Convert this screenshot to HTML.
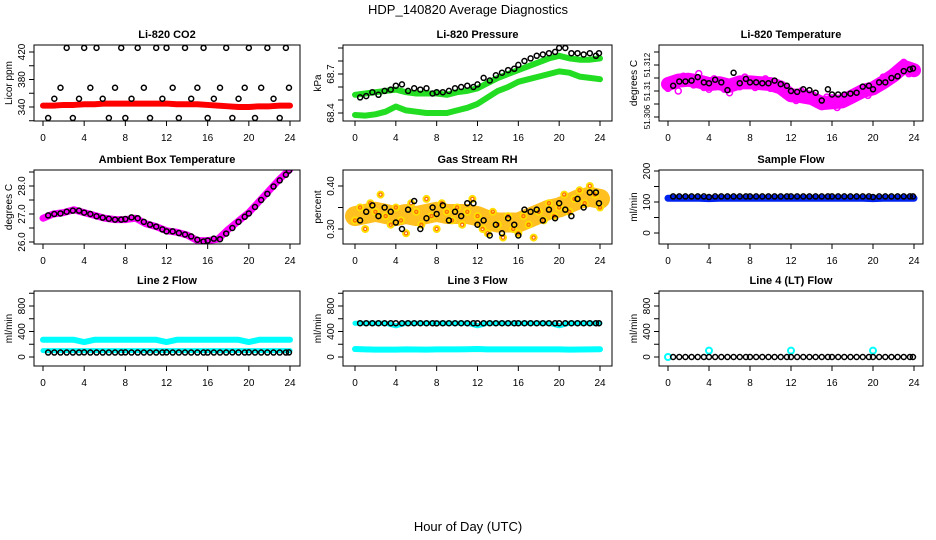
<!DOCTYPE html>
<html><head><meta charset="utf-8"><style>
body{margin:0;background:#fff}
svg{display:block;font-family:"Liberation Sans",sans-serif}
</style></head><body>
<svg id="c" width="936" height="540" viewBox="0 0 936 540">
<text x="468" y="14" text-anchor="middle" font-size="13">HDP_140820  Average Diagnostics</text>
<text x="468" y="531" text-anchor="middle" font-size="13">Hour of Day (UTC)</text>
</svg>
<script>
const hourly=[0,1,2,3,4,5,6,7,8,9,10,11,12,13,14,15,16,17,18,19,20,21,22,23,24];
const halfHours=[0,0.5,1,1.5,2,2.5,3,3.5,4,4.5,5,5.5,6,6.5,7,7.5,8,8.5,9,9.5,10,10.5,11,11.5,12,12.5,13,13.5,14,14.5,15,15.5,16,16.5,17,17.5,18,18.5,19,19.5,20,20.5,21,21.5,22,22.5,23,23.5,24];
const blackHours=[0.5,1.1,1.7,2.3,2.9,3.5,4.0,4.6,5.2,5.8,6.4,7.0,7.6,8.0,8.6,9.2,9.8,10.4,11.0,11.6,12.0,12.6,13.2,13.8,14.4,15.0,15.6,16.0,16.6,17.2,17.8,18.4,19.0,19.6,20.0,20.6,21.2,21.8,22.4,23.0,23.6,23.9];
const xTicks=[0,4,8,12,16,20,24];
const co2Red=[342,342,343,343,344,344,345,345,345,345,345,345,345,344,344,344,343,342,341,340,340,341,341,342,342];
const co2Black=[324,352,368,426,324,352,426,368,426,352,324,368,426,324,352,426,368,324,426,352,426,368,324,426,352,368,426,324,352,368,426,324,352,368,426,324,368,426,352,324,426,368];
const presBlack=[68.52,68.53,68.56,68.54,68.57,68.58,68.61,68.62,68.57,68.59,68.58,68.59,68.55,68.56,68.56,68.57,68.59,68.60,68.61,68.60,68.62,68.67,68.65,68.69,68.71,68.73,68.74,68.77,68.80,68.82,68.84,68.85,68.86,68.87,68.90,68.90,68.86,68.86,68.85,68.86,68.84,68.86];
const presGreenHi=[68.54,68.55,68.56,68.57,68.58,68.56,68.55,68.55,68.55,68.54,68.56,68.57,68.59,68.63,68.67,68.70,68.73,68.76,68.79,68.82,68.84,68.82,68.81,68.81,68.82];
const presGreenLo=[68.385,68.38,68.39,68.41,68.45,68.42,68.41,68.40,68.40,68.40,68.42,68.44,68.47,68.52,68.57,68.60,68.64,68.66,68.68,68.70,68.72,68.71,68.68,68.67,68.66];
const tempMag=[51.3098,51.3102,51.3103,51.3101,51.3098,51.3099,51.3096,51.3100,51.3100,51.3099,51.3098,51.3094,51.3085,51.3084,51.3082,51.3076,51.3077,51.3078,51.3084,51.3090,51.3093,51.3100,51.3108,51.3118,51.3114];
const tempMagScatter=[51.3093,51.3101,51.3090,51.3107,51.3105,51.3097,51.3110,51.3094,51.3092,51.3104,51.3101,51.3092,51.3088,51.3100,51.3095,51.3106,51.3103,51.3094,51.3097,51.3104,51.3093,51.3100,51.3098,51.3085,51.3082,51.3079,51.3090,51.3080,51.3086,51.3075,51.3072,51.3083,51.3082,51.3071,51.3076,51.3085,51.3080,51.3088,51.3094,51.3085,51.3091,51.3097,51.3106,51.3102,51.3110,51.3114,51.3123,51.3110,51.3117];
const tempBlack=[51.3096,51.3101,51.3101,51.3102,51.3106,51.3100,51.3099,51.3103,51.3100,51.3091,51.3111,51.3099,51.3104,51.3100,51.3100,51.3099,51.3099,51.3102,51.3098,51.3096,51.3090,51.3089,51.3092,51.3091,51.3088,51.3079,51.3092,51.3086,51.3086,51.3086,51.3087,51.3088,51.3095,51.3096,51.3092,51.3100,51.3100,51.3105,51.3107,51.3113,51.3115,51.3116];
const ambMag=[26.85,27.0,27.05,27.15,27.05,26.95,26.85,26.8,26.8,26.85,26.65,26.55,26.4,26.35,26.25,26.05,26.05,26.1,26.45,26.75,27.05,27.45,27.85,28.25,28.6];
const ambBlack=[26.95,27.0,27.02,27.08,27.12,27.12,27.05,27.0,26.92,26.87,26.83,26.8,26.8,26.82,26.88,26.85,26.72,26.62,26.55,26.45,26.38,26.38,26.32,26.27,26.2,26.08,26.02,26.05,26.12,26.1,26.3,26.5,26.72,26.9,27.02,27.25,27.5,27.72,27.98,28.2,28.4,28.55];
const rhBand=[0.33,0.335,0.34,0.335,0.33,0.335,0.33,0.335,0.34,0.335,0.335,0.335,0.33,0.32,0.315,0.315,0.315,0.325,0.335,0.345,0.35,0.36,0.37,0.375,0.37];
const rhScatter=[0.32,0.35,0.30,0.36,0.34,0.38,0.33,0.31,0.35,0.32,0.29,0.36,0.34,0.31,0.37,0.33,0.30,0.36,0.34,0.32,0.35,0.31,0.34,0.37,0.33,0.30,0.29,0.34,0.31,0.28,0.33,0.30,0.29,0.33,0.31,0.28,0.34,0.32,0.36,0.33,0.35,0.38,0.34,0.37,0.39,0.36,0.40,0.38,0.35];
const rhBlack=[0.32,0.34,0.355,0.33,0.35,0.34,0.315,0.30,0.345,0.365,0.30,0.325,0.35,0.335,0.355,0.32,0.34,0.33,0.36,0.36,0.31,0.32,0.285,0.31,0.29,0.325,0.31,0.285,0.345,0.34,0.345,0.32,0.345,0.325,0.36,0.345,0.33,0.37,0.35,0.385,0.385,0.36];
const sfBlue=[112,112,112,112,111,112,112,112,112,112,112,112,112,112,112,112,112,112,112,112,111,112,112,112,112];
const sfBlack=[118,118,118,118,118,118,116,118,118,118,118,118,118,118,118,118,118,118,118,118,118,118,118,118,118,118,118,118,118,118,118,118,118,118,116,118,118,118,118,118,118,118];
const l2CyanHi=[270,270,270,270,235,270,270,270,270,270,270,270,235,270,270,270,270,270,270,270,235,270,270,270,270];
const l2CyanLo=[100,100,100,100,100,100,100,100,100,100,100,100,100,100,100,100,100,100,100,100,100,100,100,100,100];
const l2Black=[70,70,70,70,70,70,72,70,70,70,70,70,70,72,70,70,70,70,70,70,72,70,70,70,70,70,70,70,70,70,70,72,70,70,72,70,70,70,70,70,70,72];
const l3CyanHi=[530,530,530,530,490,530,530,530,530,530,530,530,490,530,530,530,530,530,530,530,490,530,530,530,530];
const l3CyanLo=[125,120,115,115,115,120,118,115,120,120,120,122,125,120,120,120,120,120,120,120,120,115,118,120,122];
const l3Black=[530,530,530,530,530,530,530,530,530,530,530,530,530,528,530,530,530,530,530,530,530,530,530,530,530,530,530,530,530,530,530,530,530,530,530,530,530,530,530,530,530,530];
const l4Black=[0,0,0,0,0,0,0,0,0,0,0,0,0,0,0,0,0,0,0,0,0,0,0,0,0,0,0,0,0,0,0,0,0,0,0,0,0,0,0,0,0,0];
const l4CyanHours=[0,4,12,20];
const l4Cyan=[0,100,100,100];

const NS='http://www.w3.org/2000/svg';
const svg=document.getElementById('c');
function mk(tag,attrs,parent){const e=document.createElementNS(NS,tag);for(const k in attrs)e.setAttribute(k,attrs[k]);(parent||svg).appendChild(e);return e;}

function panel(o){
  const g=mk('g',{});
  
  
  const xs=h=>o.x0+(h/24)*(o.x24-o.x0);
  const ys=v=>o.ya+(v-o.va)*(o.yb-o.ya)/(o.vb-o.va);
  o.xs=xs;o.ys=ys;o.g=g;
  const clip='cl'+o.name;
  const cp=mk('clipPath',{id:clip},g);
  mk('rect',{x:o.L,y:o.T,width:o.R-o.L,height:o.B-o.T},cp);
  o.plot=mk('g',{'clip-path':'url(#'+clip+')'},g);
  const t=mk('text',{x:(o.L+o.R)/2,y:o.T-7,'text-anchor':'middle','font-size':11,'font-weight':'bold'},g);
  t.textContent=o.title;
  
  
  xTicks.forEach(h=>{
    mk('line',{x1:xs(h),x2:xs(h),y1:o.B,y2:o.B+5,stroke:'#000'},g);
    const tx=mk('text',{x:xs(h),y:o.B+20,'text-anchor':'middle','font-size':10},g);tx.textContent=h;
    
    
  });
  o.yticks.forEach(v=>{mk('line',{x1:o.L-5,x2:o.L,y1:ys(v),y2:ys(v),stroke:'#000'},g);});
  const fs=o.yfs||10;
  o.ylabels.forEach((v,i)=>{
    const tx=mk('text',{x:0,y:0,'text-anchor':'middle','font-size':fs,transform:'translate('+(o.L-9)+','+ys(v)+') rotate(-90)'},g);
    tx.textContent=o.ylabelText[i];
    
    
  });
  const yl=mk('text',{x:0,y:0,'text-anchor':'middle','font-size':10,transform:'translate('+(o.L-22)+','+((o.T+o.B)/2)+') rotate(-90)'},g);
  yl.textContent=o.ylab;
  
  
  return o;
}
function finish(o){
  const r=mk('rect',{x:o.L,y:o.T,width:o.R-o.L,height:o.B-o.T,fill:'none',stroke:'#000'},o.g);
  
  
}
function band(o,hours,vals,color,w,name){
  const n=Math.min(hours.length,vals.length);
  const p=[];for(let i=0;i<n;i++)p.push(o.xs(hours[i])+','+o.ys(vals[i]));
  const e=mk('polyline',{points:p.join(' '),fill:'none',stroke:color,'stroke-width':w,'stroke-linejoin':'round','stroke-linecap':'round'},o.plot);
  
  
}
function pts(o,hours,vals,color,r,sw,name){
  const g=mk('g',{},o.plot);
  
  
  const n=Math.min(hours.length,vals.length);
  for(let i=0;i<n;i++)mk('circle',{cx:o.xs(hours[i]),cy:o.ys(vals[i]),r:r,fill:'none',stroke:color,'stroke-width':sw},g);
}

let p;
p=panel({name:'co2-panel',title:'Li-820 CO2',ylab:'Licor ppm',L:34,R:300,T:45,B:121,x0:43,x24:290,va:340,ya:107,vb:420,yb:52,yticks:[320,340,360,380,400,420],ylabels:[340,380,420],ylabelText:['340','380','420']});
band(p,hourly,co2Red,'#ff0000',6,'co2-red-series');
pts(p,blackHours,co2Black,'#000',2.5,1.5,'co2-black-series');
finish(p);

p=panel({name:'pressure-panel',title:'Li-820 Pressure',ylab:'kPa',L:343,R:612,T:45,B:121,x0:355,x24:600,va:68.4,ya:113,vb:68.7,yb:74,yticks:[68.4,68.5,68.6,68.7,68.8,68.9],ylabels:[68.4,68.7],ylabelText:['68.4','68.7']});
band(p,hourly,presGreenHi,'#22dd22',6,'pressure-green-upper');
band(p,hourly,presGreenLo,'#22dd22',6,'pressure-green-lower');
pts(p,blackHours,presBlack,'#000',2.5,1.5,'pressure-black-series');
finish(p);

p=panel({name:'temperature-panel',title:'Li-820 Temperature',ylab:'degrees C',L:659,R:923,T:45,B:121,x0:668,x24:914,va:51.306,ya:117,vb:51.312,yb:65,yticks:[51.306,51.3075,51.309,51.3105,51.312,51.3135],ylabels:[51.306,51.309,51.312],ylabelText:['51.306','51.31','51.312'],yfs:8});
band(p,hourly,tempMag,'#ff00ff',14,'temperature-magenta-series');
pts(p,halfHours,tempMagScatter,'#ff00ff',3,1.5,'temperature-magenta-points');
pts(p,blackHours,tempBlack,'#000',2.5,1.5,'temperature-black-series');
finish(p);

p=panel({name:'ambient-panel',title:'Ambient Box Temperature',ylab:'degrees C',L:34,R:300,T:170,B:244,x0:43,x24:290,va:26,ya:242,vb:28,yb:186,yticks:[26,26.5,27,27.5,28,28.5],ylabels:[26,27,28],ylabelText:['26.0','27.0','28.0']});
band(p,hourly,ambMag,'#ff00ff',7,'ambient-magenta-series');
pts(p,blackHours,ambBlack,'#000',2.5,1.5,'ambient-black-series');
finish(p);

p=panel({name:'rh-panel',title:'Gas Stream RH',ylab:'percent',L:343,R:612,T:170,B:244,x0:355,x24:600,va:0.30,ya:229,vb:0.40,yb:186,yticks:[0.30,0.35,0.40],ylabels:[0.30,0.40],ylabelText:['0.30','0.40']});
band(p,hourly,rhBand,'#ffc020',20,'rh-yellow-band');
pts(p,halfHours,rhScatter,'#ffe000',3,2,'rh-yellow-points');
pts(p,halfHours,rhScatter,'#ff7000',1.6,1.2,'rh-orange-points');
pts(p,blackHours,rhBlack,'#000',2.5,1.5,'rh-black-series');
finish(p);

p=panel({name:'sample-flow-panel',title:'Sample Flow',ylab:'ml/min',L:659,R:923,T:170,B:244,x0:668,x24:914,va:0,ya:233,vb:200,yb:171,yticks:[0,50,100,150,200],ylabels:[0,100,200],ylabelText:['0','100','200']});
band(p,hourly,sfBlue,'#0022ee',7,'sample-flow-blue-series');
pts(p,blackHours,sfBlack,'#000',2.5,1.5,'sample-flow-black-series');
finish(p);

p=panel({name:'line2-flow-panel',title:'Line 2 Flow',ylab:'ml/min',L:34,R:300,T:291,B:366,x0:43,x24:290,va:0,ya:357,vb:800,yb:306,yticks:[0,200,400,600,800,1000],ylabels:[0,400,800],ylabelText:['0','400','800']});
band(p,hourly,l2CyanHi,'#00ffff',6,'line2-cyan-upper');
band(p,hourly,l2CyanLo,'#00ffff',5,'line2-cyan-lower');
pts(p,blackHours,l2Black,'#000',2.5,1.5,'line2-black-series');
finish(p);

p=panel({name:'line3-flow-panel',title:'Line 3 Flow',ylab:'ml/min',L:343,R:612,T:291,B:366,x0:355,x24:600,va:0,ya:357,vb:800,yb:306,yticks:[0,200,400,600,800,1000],ylabels:[0,400,800],ylabelText:['0','400','800']});
band(p,hourly,l3CyanHi,'#00ffff',5,'line3-cyan-upper');
band(p,hourly,l3CyanLo,'#00ffff',6,'line3-cyan-lower');
pts(p,blackHours,l3Black,'#000',2.5,1.5,'line3-black-series');
finish(p);

p=panel({name:'line4-flow-panel',title:'Line 4 (LT) Flow',ylab:'ml/min',L:659,R:923,T:291,B:366,x0:668,x24:914,va:0,ya:357,vb:800,yb:306,yticks:[0,200,400,600,800,1000],ylabels:[0,400,800],ylabelText:['0','400','800']});
pts(p,l4CyanHours,l4Cyan,'#00ffff',3,2,'line4-cyan-series');
pts(p,blackHours,l4Black,'#000',2.5,1.5,'line4-black-series');
finish(p);
</script>
</body></html>
